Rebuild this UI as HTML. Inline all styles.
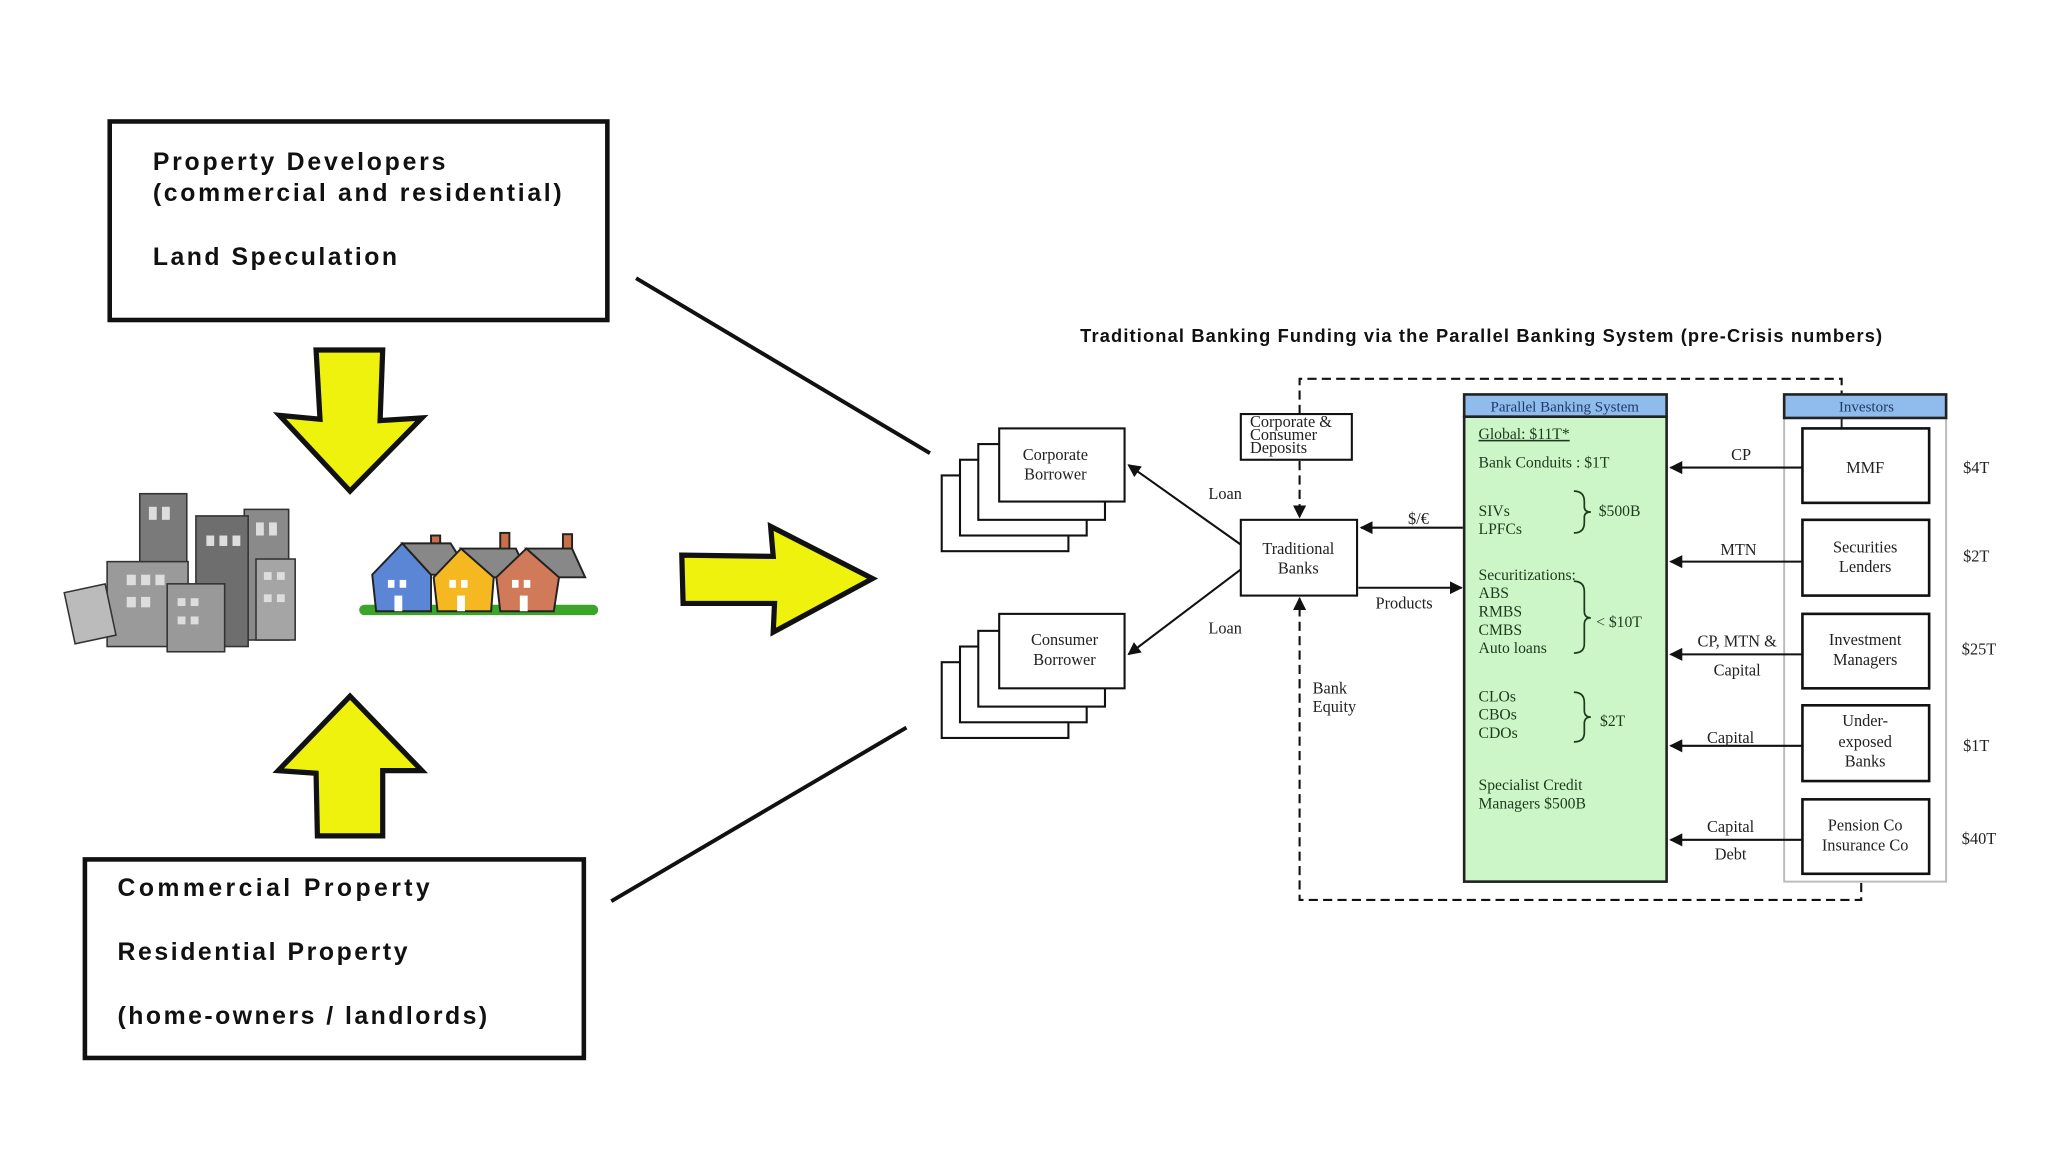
<!DOCTYPE html>
<html><head><meta charset="utf-8"><style>
html,body{margin:0;padding:0;background:#fff;}
svg{display:block;}
.lb{font-family:"Liberation Sans",sans-serif;font-weight:bold;font-size:19px;fill:#111;}
.s{font-family:"Liberation Serif",serif;font-size:12.5px;fill:#222;}
.g{font-family:"Liberation Serif",serif;font-size:12px;fill:#1d3a1d;}
</style></head><body>
<svg width="2048" height="1152" viewBox="0 0 1568 882" xmlns="http://www.w3.org/2000/svg">
<defs>
<marker id="ah" markerWidth="10" markerHeight="10" refX="9" refY="5" orient="auto" markerUnits="userSpaceOnUse"><path d="M0,0 L10,5 L0,10 z" fill="#111"/></marker>
</defs>
<rect width="1568" height="882" fill="#fff"/>
<!-- left boxes -->
<rect x="84" y="93" width="381" height="152" fill="#fff" stroke="#111" stroke-width="3.5"/>
<text class="lb" x="117" y="130" textLength="224" lengthAdjust="spacing">Property Developers</text>
<text class="lb" x="117" y="154" textLength="313" lengthAdjust="spacing">(commercial and residential)</text>
<text class="lb" x="117" y="203" textLength="187" lengthAdjust="spacing">Land Speculation</text>
<rect x="65" y="658" width="382" height="152" fill="#fff" stroke="#111" stroke-width="3.5"/>
<text class="lb" x="90" y="686" textLength="239" lengthAdjust="spacing">Commercial Property</text>
<text class="lb" x="90" y="735" textLength="222" lengthAdjust="spacing">Residential Property</text>
<text class="lb" x="90" y="784" textLength="283" lengthAdjust="spacing">(home-owners / landlords)</text>
<line x1="487" y1="213" x2="712" y2="347" stroke="#111" stroke-width="3"/>
<line x1="468" y1="690" x2="694" y2="557" stroke="#111" stroke-width="3"/>
<!-- yellow arrows -->
<g fill="#eef20c" stroke="#111" stroke-width="4" stroke-linejoin="miter">
<path d="M242,268 L293,268 L291,322 L323,320 L268,376 L214,318 L245,321 Z"/>
<path d="M268,533 L323,590 L293,590 L293,640 L243,640 L242,592 L213,590 Z"/>
<path d="M522,425 L592,426 L590,403 L668,443 L592,484 L593,462 L523,462 Z"/>
</g>
<!-- buildings -->
<g stroke="#333" stroke-width="1.2">
<rect x="107" y="378" width="36" height="100" fill="#7a7a7a"/>
<rect x="187" y="390" width="34" height="100" fill="#8a8a8a"/>
<rect x="150" y="395" width="40" height="100" fill="#6e6e6e"/>
<rect x="196" y="428" width="30" height="62" fill="#a5a5a5"/>
<rect x="82" y="430" width="62" height="65" fill="#9a9a9a"/>
<rect x="128" y="447" width="44" height="52" fill="#999"/>
<rect x="53" y="450" width="32" height="40" fill="#bbb" transform="rotate(-12 69 470)"/>
</g>
<g fill="#ddd">
<rect x="114" y="388" width="6" height="10"/><rect x="124" y="388" width="6" height="10"/>
<rect x="97" y="440" width="7" height="8"/><rect x="108" y="440" width="7" height="8"/><rect x="119" y="440" width="7" height="8"/>
<rect x="97" y="457" width="7" height="8"/><rect x="108" y="457" width="7" height="8"/>
<rect x="158" y="410" width="6" height="8"/><rect x="168" y="410" width="6" height="8"/><rect x="178" y="410" width="6" height="8"/>
<rect x="196" y="400" width="6" height="10"/><rect x="206" y="400" width="6" height="10"/>
<rect x="136" y="458" width="6" height="6"/><rect x="146" y="458" width="6" height="6"/><rect x="136" y="472" width="6" height="6"/><rect x="146" y="472" width="6" height="6"/>
<rect x="202" y="438" width="6" height="6"/><rect x="212" y="438" width="6" height="6"/><rect x="202" y="455" width="6" height="6"/><rect x="212" y="455" width="6" height="6"/>
</g>
<!-- houses -->
<rect x="275" y="463" width="183" height="8" rx="4" fill="#3aa528"/>
<g stroke="#222" stroke-width="1.5">
<rect x="330" y="410" width="7" height="22" fill="#c8704a"/>
<rect x="383" y="408" width="7" height="22" fill="#c8704a"/>
<rect x="431" y="409" width="7" height="22" fill="#c8704a"/>
<path d="M285,440 L308,416 L330,440 L330,468 L288,468 Z" fill="#5b86d6"/>
<path d="M308,416 L345,416 L360,440 L330,440 Z" fill="#888"/>
<path d="M332,442 L353,420 L378,442 L376,468 L335,468 Z" fill="#f5b820"/>
<path d="M353,420 L395,420 L405,442 L378,442 Z" fill="#888"/>
<path d="M380,442 L403,420 L428,442 L424,468 L383,468 Z" fill="#d07a5a"/>
<path d="M403,420 L438,420 L448,442 L428,442 Z" fill="#888"/>
</g>
<g fill="#fff">
<rect x="297" y="444" width="5" height="6"/><rect x="306" y="444" width="5" height="6"/><rect x="302" y="456" width="6" height="12"/>
<rect x="344" y="444" width="5" height="6"/><rect x="353" y="444" width="5" height="6"/><rect x="350" y="456" width="6" height="12"/>
<rect x="392" y="444" width="5" height="6"/><rect x="401" y="444" width="5" height="6"/><rect x="398" y="456" width="6" height="12"/>
</g>
<!-- title -->
<text x="827" y="262" textLength="614" lengthAdjust="spacing" font-family="Liberation Sans,sans-serif" font-weight="bold" font-size="14" fill="#111">Traditional Banking Funding via the Parallel Banking System (pre-Crisis numbers)</text>
<!-- borrower stacks -->
<g fill="#fff" stroke="#111" stroke-width="1.6">
<rect x="721" y="364" width="97" height="58"/><rect x="735" y="352" width="97" height="58"/><rect x="749" y="340" width="97" height="58"/><rect x="765" y="328" width="96" height="56"/>
<rect x="721" y="507" width="97" height="58"/><rect x="735" y="495" width="97" height="58"/><rect x="749" y="483" width="97" height="58"/><rect x="765" y="470" width="96" height="57"/>
<rect x="950" y="317" width="85" height="35"/>
<rect x="950" y="398" width="89" height="58"/>
</g>
<text class="s" x="808" y="352" text-anchor="middle">Corporate</text>
<text class="s" x="808" y="367" text-anchor="middle">Borrower</text>
<text class="s" x="815" y="494" text-anchor="middle">Consumer</text>
<text class="s" x="815" y="509" text-anchor="middle">Borrower</text>
<text class="s" x="957" y="327" font-size="10">Corporate &amp;</text>
<text class="s" x="957" y="337" font-size="10">Consumer</text>
<text class="s" x="957" y="347" font-size="10">Deposits</text>
<text class="s" x="994" y="424" text-anchor="middle">Traditional</text>
<text class="s" x="994" y="439" text-anchor="middle">Banks</text>
<g stroke="#111" stroke-width="1.6" fill="none">
<line x1="950" y1="417" x2="864" y2="356" marker-end="url(#ah)"/>
<line x1="950" y1="436" x2="864" y2="501" marker-end="url(#ah)"/>
<line x1="1120" y1="404" x2="1042" y2="404" marker-end="url(#ah)"/>
<line x1="1040" y1="450" x2="1119" y2="450" marker-end="url(#ah)"/>
<g stroke-dasharray="7,4">
<polyline points="995,317 995,290 1410,290 1410,302"/>
<line x1="995" y1="353" x2="995" y2="396" marker-end="url(#ah)"/>
<polyline points="1425,676 1425,689 995,689 995,458" marker-end="url(#ah)"/>
</g>
</g>
<text class="s" x="938" y="382" text-anchor="middle">Loan</text>
<text class="s" x="938" y="485" text-anchor="middle">Loan</text>
<text class="s" x="1086" y="401" text-anchor="middle">$/€</text>
<text class="s" x="1075" y="466" text-anchor="middle">Products</text>
<text class="s" x="1005" y="531">Bank</text>
<text class="s" x="1005" y="545">Equity</text>
<!-- PBS -->
<rect x="1121" y="319" width="155" height="356" fill="#ccf6c8" stroke="#222" stroke-width="2"/>
<rect x="1121" y="302" width="155" height="17" fill="#8fbcec" stroke="#222" stroke-width="2"/>
<text x="1198" y="315" text-anchor="middle" font-family="Liberation Serif,serif" font-size="11.5" fill="#223a66">Parallel Banking System</text>
<g class="g">
<text class="g" x="1132" y="336" text-decoration="underline">Global: $11T*</text>
<text class="g" x="1132" y="358">Bank  Conduits : $1T</text>
<text class="g" x="1132" y="395">SIVs</text><text class="g" x="1132" y="409">LPFCs</text>
<text class="g" x="1224" y="395">$500B</text>
<text class="g" x="1132" y="444">Securitizations:</text>
<text class="g" x="1132" y="458">ABS</text><text class="g" x="1132" y="472">RMBS</text><text class="g" x="1132" y="486">CMBS</text><text class="g" x="1132" y="500">Auto loans</text>
<text class="g" x="1222" y="480">&lt; $10T</text>
<text class="g" x="1132" y="537">CLOs</text><text class="g" x="1132" y="551">CBOs</text><text class="g" x="1132" y="565">CDOs</text>
<text class="g" x="1225" y="556">$2T</text>
<text class="g" x="1132" y="605">Specialist Credit</text>
<text class="g" x="1132" y="619">Managers  $500B</text>
</g>
<g stroke="#1d3a1d" stroke-width="1.3" fill="none">
<path d="M1205,376 Q1213,376 1213,384 L1213,388 Q1213,392 1218,392 Q1213,392 1213,396 L1213,400 Q1213,408 1205,408"/>
<path d="M1205,445 Q1213,445 1213,453 L1213,468 Q1213,473 1218,473 Q1213,473 1213,478 L1213,493 Q1213,500 1205,500"/>
<path d="M1205,530 Q1213,530 1213,538 L1213,544 Q1213,549 1218,549 Q1213,549 1213,554 L1213,561 Q1213,568 1205,568"/>
</g>
<!-- Investors -->
<rect x="1366" y="320" width="124" height="355" fill="none" stroke="#bbb" stroke-width="1.5"/>
<rect x="1366" y="302" width="124" height="18" fill="#8fbcec" stroke="#222" stroke-width="2"/>
<text x="1429" y="315" text-anchor="middle" font-family="Liberation Serif,serif" font-size="11.5" fill="#223a66">Investors</text>
<line x1="1410" y1="320" x2="1410" y2="328" stroke="#222" stroke-width="1.5"/>
<g fill="#fff" stroke="#111" stroke-width="2">
<rect x="1380" y="328" width="97" height="57"/>
<rect x="1380" y="398" width="97" height="58"/>
<rect x="1380" y="470" width="97" height="57"/>
<rect x="1380" y="540" width="97" height="58"/>
<rect x="1380" y="612" width="97" height="57"/>
</g>
<g class="s">
<text class="s" x="1428" y="362" text-anchor="middle">MMF</text>
<text class="s" x="1428" y="423" text-anchor="middle">Securities</text><text class="s" x="1428" y="438" text-anchor="middle">Lenders</text>
<text class="s" x="1428" y="494" text-anchor="middle">Investment</text><text class="s" x="1428" y="509" text-anchor="middle">Managers</text>
<text class="s" x="1428" y="556" text-anchor="middle">Under-</text><text class="s" x="1428" y="572" text-anchor="middle">exposed</text><text class="s" x="1428" y="587" text-anchor="middle">Banks</text>
<text class="s" x="1428" y="636" text-anchor="middle">Pension Co</text><text class="s" x="1428" y="651" text-anchor="middle">Insurance Co</text>
</g>
<g stroke="#111" stroke-width="1.6">
<line x1="1380" y1="358" x2="1279" y2="358" marker-end="url(#ah)"/>
<line x1="1380" y1="430" x2="1279" y2="430" marker-end="url(#ah)"/>
<line x1="1380" y1="501" x2="1279" y2="501" marker-end="url(#ah)"/>
<line x1="1380" y1="571" x2="1279" y2="571" marker-end="url(#ah)"/>
<line x1="1380" y1="643" x2="1279" y2="643" marker-end="url(#ah)"/>
</g>
<text class="s" x="1333" y="352" text-anchor="middle">CP</text>
<text class="s" x="1331" y="425" text-anchor="middle">MTN</text>
<text class="s" x="1330" y="495" text-anchor="middle">CP, MTN &amp;</text>
<text class="s" x="1330" y="517" text-anchor="middle">Capital</text>
<text class="s" x="1325" y="569" text-anchor="middle">Capital</text>
<text class="s" x="1325" y="637" text-anchor="middle">Capital</text>
<text class="s" x="1325" y="658" text-anchor="middle">Debt</text>
<text class="s" x="1503" y="362">$4T</text>
<text class="s" x="1503" y="430">$2T</text>
<text class="s" x="1502" y="501">$25T</text>
<text class="s" x="1503" y="575">$1T</text>
<text class="s" x="1502" y="646">$40T</text>
</svg>
</body></html>
